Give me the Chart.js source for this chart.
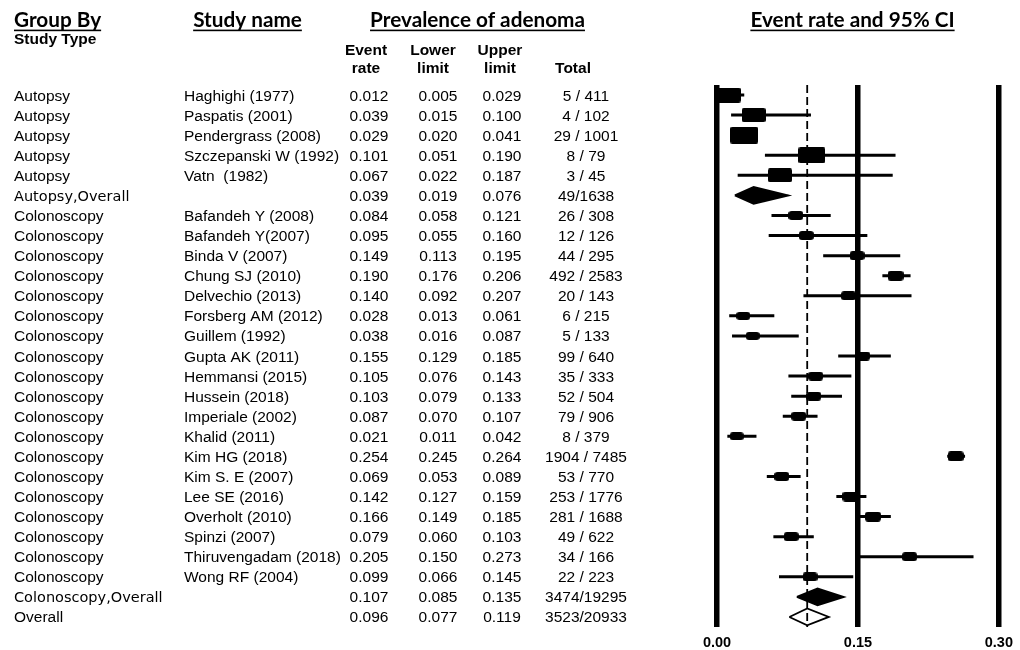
<!DOCTYPE html>
<html>
<head>
<meta charset="utf-8">
<script src="https://cdn.jsdelivr.net/npm/chart.js@4.4.1/dist/chart.umd.min.js"></script>
<style>
html,body{margin:0;padding:0;background:#fff;overflow:hidden;}
canvas{display:block;}
</style>
</head>
<body>
<canvas id="c" width="1020" height="650"></canvas>
<script>
// ---------- data ----------
const groups = [
  'Autopsy','Autopsy','Autopsy','Autopsy','Autopsy','Autopsy,Overall',
  'Colonoscopy','Colonoscopy','Colonoscopy','Colonoscopy','Colonoscopy','Colonoscopy',
  'Colonoscopy','Colonoscopy','Colonoscopy','Colonoscopy','Colonoscopy','Colonoscopy',
  'Colonoscopy','Colonoscopy','Colonoscopy','Colonoscopy','Colonoscopy','Colonoscopy',
  'Colonoscopy','Colonoscopy,Overall','Overall'
];
const studies = [
  'Haghighi (1977)','Paspatis (2001)','Pendergrass (2008)','Szczepanski W (1992)','Vatn  (1982)','',
  'Bafandeh Y (2008)','Bafandeh Y(2007)','Binda V (2007)','Chung SJ (2010)','Delvechio (2013)','Forsberg AM (2012)',
  'Guillem (1992)','Gupta AK (2011)','Hemmansi (2015)','Hussein (2018)','Imperiale (2002)','Khalid (2011)',
  'Kim HG (2018)','Kim S. E (2007)','Lee SE (2016)','Overholt (2010)','Spinzi (2007)','Thiruvengadam (2018)',
  'Wong RF (2004)','',''
];
const eventRate  = [0.012,0.039,0.029,0.101,0.067,0.039, 0.084,0.095,0.149,0.190,0.140,0.028,0.038,0.155,0.105,0.103,0.087,0.021,0.254,0.069,0.142,0.166,0.079,0.205,0.099, 0.107,0.096];
const lowerLimit = [0.005,0.015,0.020,0.051,0.022,0.019, 0.058,0.055,0.113,0.176,0.092,0.013,0.016,0.129,0.076,0.079,0.070,0.011,0.245,0.053,0.127,0.149,0.060,0.150,0.066, 0.085,0.077];
const upperLimit = [0.029,0.100,0.041,0.190,0.187,0.076, 0.121,0.160,0.195,0.206,0.207,0.061,0.087,0.185,0.143,0.133,0.107,0.042,0.264,0.089,0.159,0.185,0.103,0.273,0.145, 0.135,0.119];
const events = [5,4,29,8,3,49, 26,12,44,492,20,6,5,99,35,52,79,8,1904,53,253,281,49,34,22, 3474,3523];
const totals = [411,102,1001,79,45,1638, 308,126,295,2583,143,215,133,640,333,504,906,379,7485,770,1776,1688,622,166,223, 19295,20933];
// relative weight (%) within subgroup
const weightPct = [19,18,24,22,17,null, 5.3,5.0,5.3,5.8,5.0,4.3,4.0,5.6,5.3,5.5,5.6,4.4,5.9,5.5,5.8,5.8,5.5,5.2,5.1, null,null];
const xTickValues = [0, 0.15, 0.30];
const xTickLabels = ['0.00','0.15','0.30'];
const colHeads = [['Event','rate'],['Lower','limit'],['Upper','limit'],['','Total']];

// ---------- build datasets ----------
const N = groups.length;
const isSummary = studies.map(s => s === '');

const ciData = [];
const boxData = [];
for (let i = 0; i < N; i++) {
  if (isSummary[i]) continue;
  ciData.push({x: lowerLimit[i], y: i}, {x: upperLimit[i], y: i}, {x: null, y: null});
  boxData.push({x: eventRate[i], y: i, w: weightPct[i]});
}

const boxCache = {};
function boxStyle(w) {
  const key = String(w);
  if (boxCache[key]) return boxCache[key];
  const bw = Math.round(4 + 4.8 * Math.sqrt(w));
  const bh = Math.round(bw * 0.6);
  const cv = document.createElement('canvas');
  cv.width = bw; cv.height = bh;
  const c = cv.getContext('2d');
  c.fillStyle = '#000';
  c.beginPath();
  const r = w < 10 ? 3.2 : 2;
  if (c.roundRect) c.roundRect(0, 0, bw, bh, r); else c.rect(0, 0, bw, bh);
  c.fill();
  boxCache[key] = cv;
  return cv;
}

const HALF = 0.42;
const diamondSets = [];
for (let i = 0; i < N; i++) {
  if (!isSummary[i]) continue;
  const white = groups[i] === 'Overall';
  diamondSets.push({
    type: 'line',
    order: 1,
    data: [
      {x: lowerLimit[i], y: i}, {x: eventRate[i], y: i - HALF},
      {x: upperLimit[i], y: i}, {x: eventRate[i], y: i + HALF},
      {x: lowerLimit[i], y: i}
    ],
    borderColor: '#000',
    borderWidth: 1.8,
    backgroundColor: white ? '#fff' : '#000',
    fill: 'shape',
    tension: 0,
    pointRadius: 0
  });
}

const overallIdx = N - 1;
const datasets = [
  {
    type: 'line', order: 0,
    data: [{x: eventRate[overallIdx], y: -0.5}, {x: eventRate[overallIdx], y: 26.6}],
    borderColor: '#000', borderWidth: 1.8, borderDash: [8, 4],
    pointRadius: 0, fill: false
  },
  ...diamondSets,
  {
    type: 'scatter', order: 2,
    data: boxData,
    pointRadius: 3,
    pointStyle: ctx => (ctx.raw && ctx.raw.w ? boxStyle(ctx.raw.w) : 'rect'),
    backgroundColor: '#000', borderColor: '#000'
  },
  {
    type: 'line', order: 3,
    data: ciData,
    borderColor: '#000', borderWidth: 3,
    spanGaps: false, pointRadius: 0, fill: false
  }
];

// ---------- table text plugin ----------
const ARIAL = '"Liberation Sans", Arial, sans-serif';
const tablePlugin = {
  id: 'table',
  afterDraw(chart) {
    const ctx = chart.ctx;
    const ys = chart.scales.y;
    ctx.save();
    ctx.fillStyle = '#000';
    ctx.textBaseline = 'alphabetic';

    // underlined headers (Calibri-like)
    ctx.font = 'bold 20px Lato';
    const hs = 20 * 215 / ctx.measureText('Prevalence of adenoma').width;
    ctx.font = 'bold ' + hs.toFixed(2) + 'px Lato';
    const heads = [
      ['Group By', 14, 'left'],
      ['Study name', 247.5, 'center'],
      ['Prevalence of adenoma', 477.5, 'center'],
      ['Event rate and 95% CI', 852.5, 'center']
    ];
    heads.forEach(([t, x, al]) => {
      ctx.textAlign = al;
      ctx.fillText(t, x, 27);
      const w = ctx.measureText(t).width;
      const x0 = al === 'left' ? x : x - w / 2;
      ctx.fillRect(x0, 29.6, w, 1.6);
    });

    ctx.font = 'bold 15.5px ' + ARIAL;
    ctx.textAlign = 'left';
    ctx.fillText('Study Type', 14, 44);

    const colX = [366, 433, 500, 573];
    ctx.textAlign = 'center';
    colHeads.forEach((h, k) => {
      if (h[0]) ctx.fillText(h[0], colX[k], 55);
      ctx.fillText(h[1], colX[k], 73);
    });

    // rows
    const numX = [369, 438, 502];
    const totX = 586;
    for (let i = 0; i < N; i++) {
      const y = ys.getPixelForValue(i) + 5.5;
      ctx.textAlign = 'left';
      const g = groups[i];
      if (g.indexOf(',') >= 0) {
        ctx.font = '14.5px "DejaVu Sans", sans-serif';
        ctx.fillText(g, 14, y);
      } else {
        ctx.font = '15.5px ' + ARIAL;
        ctx.fillText(g, 14, y);
      }
      ctx.font = '15.5px ' + ARIAL;
      if (studies[i]) ctx.fillText(studies[i], 184, y);
      ctx.textAlign = 'center';
      ctx.fillText(eventRate[i].toFixed(3), numX[0], y);
      ctx.fillText(lowerLimit[i].toFixed(3), numX[1], y);
      ctx.fillText(upperLimit[i].toFixed(3), numX[2], y);
      const tt = isSummary[i] ? events[i] + '/' + totals[i] : events[i] + ' / ' + totals[i];
      ctx.fillText(tt, totX, y);
    }
    ctx.restore();
  }
};

// ---------- chart ----------
new Chart(document.getElementById('c'), {
  type: 'scatter',
  data: {datasets},
  options: {
    responsive: false,
    devicePixelRatio: 1,
    animation: false,
    events: [],
    layout: {padding: {left: 717, right: 17, top: 85, bottom: 0}},
    plugins: {legend: {display: false}, tooltip: {enabled: false}},
    scales: {
      x: {
        type: 'linear',
        min: xTickValues[0],
        max: xTickValues[xTickValues.length - 1],
        afterBuildTicks: s => { s.ticks = xTickValues.map(v => ({value: v})); },
        afterFit: s => { s.height = 23; },
        ticks: {
          padding: 7,
          color: '#000',
          font: {family: ARIAL, size: 14.5, weight: 'bold'},
          callback: (v, idx) => xTickLabels[idx]
        },
        grid: {color: '#000', lineWidth: 5.5, drawTicks: false},
        border: {display: false}
      },
      y: {
        type: 'linear',
        reverse: true,
        min: -0.5,
        max: 26.5,
        display: false
      }
    }
  },
  plugins: [tablePlugin]
});
</script>
</body>
</html>
